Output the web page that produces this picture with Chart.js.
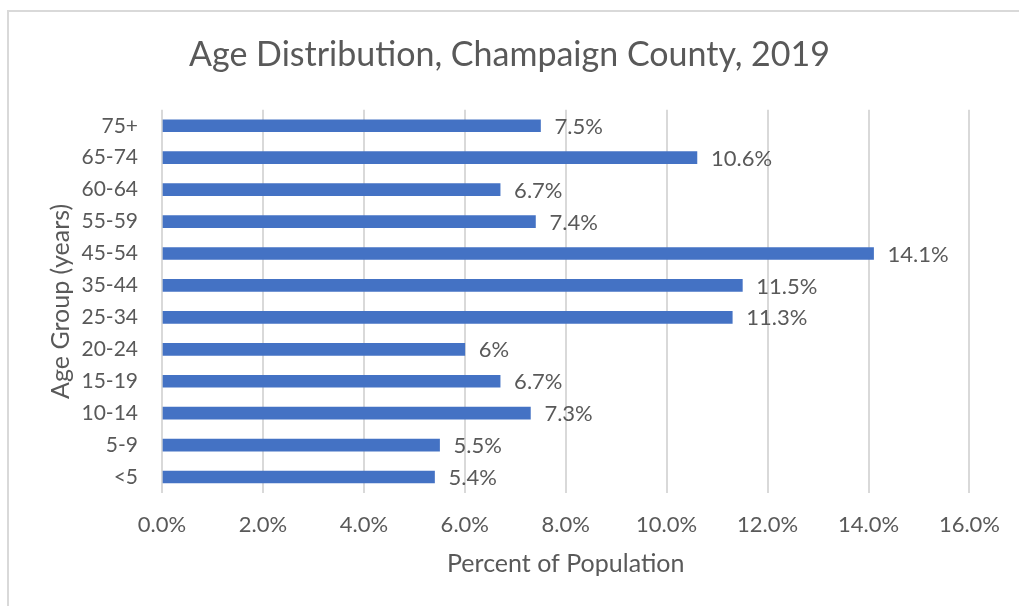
<!DOCTYPE html>
<html>
<head>
<meta charset="utf-8">
<script src="https://cdn.jsdelivr.net/npm/chart.js@4.4.1/dist/chart.umd.min.js"></script>
<style>
  html, body { margin: 0; padding: 0; background: #fff; overflow: hidden; }
  #frame { position: absolute; left: 7px; top: 10px; width: 1100px; height: 700px; border: 2px solid #d9d9d9; }
  #chart { position: absolute; left: 0; top: 0; display: block; }
</style>
</head>
<body>
<div id="frame"></div>
<canvas id="chart" width="1019" height="606"></canvas>
<script>
const ageGroups = ['75+', '65-74', '60-64', '55-59', '45-54', '35-44', '25-34', '20-24', '15-19', '10-14', '5-9', '<5'];
const percentValues = [7.5, 10.6, 6.7, 7.4, 14.1, 11.5, 11.3, 6, 6.7, 7.3, 5.5, 5.4];
const xTicks = [0, 2, 4, 6, 8, 10, 12, 14, 16];

const FONT = 'Lato, "Open Sans", sans-serif';
const TEXT = '#595959';

// draws the value next to each bar end, like excel data labels
const barLabels = {
  id: 'barLabels',
  afterDatasetsDraw(chart) {
    const ctx = chart.ctx;
    const meta = chart.getDatasetMeta(0);
    ctx.save();
    ctx.font = '22px ' + FONT;
    ctx.fillStyle = TEXT;
    ctx.textAlign = 'left';
    ctx.textBaseline = 'middle';
    meta.data.forEach((bar, i) => {
      ctx.fillText(percentValues[i] + '%', bar.x + 14, bar.y + 1);
    });
    ctx.restore();
  }
};

new Chart(document.getElementById('chart').getContext('2d'), {
  type: 'bar',
  data: {
    labels: ageGroups,
    datasets: [{
      data: percentValues,
      backgroundColor: '#4472c4',
      barThickness: 12
    }]
  },
  options: {
    indexAxis: 'y',
    responsive: false,
    animation: false,
    layout: { padding: { left: 46, right: 46, top: 0, bottom: 27 } },
    plugins: {
      legend: { display: false },
      tooltip: { enabled: false },
      title: {
        display: true,
        text: 'Age Distribution, Champaign County, 2019',
        color: TEXT,
        font: { family: FONT, size: 34, weight: 'normal' },
        padding: { top: 35, bottom: 34 }
      }
    },
    scales: {
      x: {
        min: 0,
        max: 16,
        afterBuildTicks: axis => { axis.ticks = xTicks.map(v => ({ value: v })); },
        afterFit: axis => { axis.height = 86; },
        ticks: {
          callback: v => v.toFixed(1) + '%',
          color: TEXT,
          font: { family: FONT, size: 22 },
          padding: 19
        },
        grid: { color: '#d9d9d9', lineWidth: 2, drawTicks: false },
        border: { display: false },
        title: {
          display: true,
          text: 'Percent of Population',
          color: TEXT,
          font: { family: FONT, size: 25 },
          padding: { top: 0, bottom: 0 }
        }
      },
      y: {
        afterFit: axis => { axis.width = 116; },
        ticks: {
          color: TEXT,
          font: { family: FONT, size: 21 },
          padding: 24
        },
        grid: { display: false, drawTicks: false },
        border: { display: false },
        title: {
          display: true,
          text: 'Age Group (years)',
          color: TEXT,
          font: { family: FONT, size: 25 },
          padding: { top: 0, bottom: 0 }
        }
      }
    }
  },
  plugins: [barLabels]
});
</script>
</body>
</html>
